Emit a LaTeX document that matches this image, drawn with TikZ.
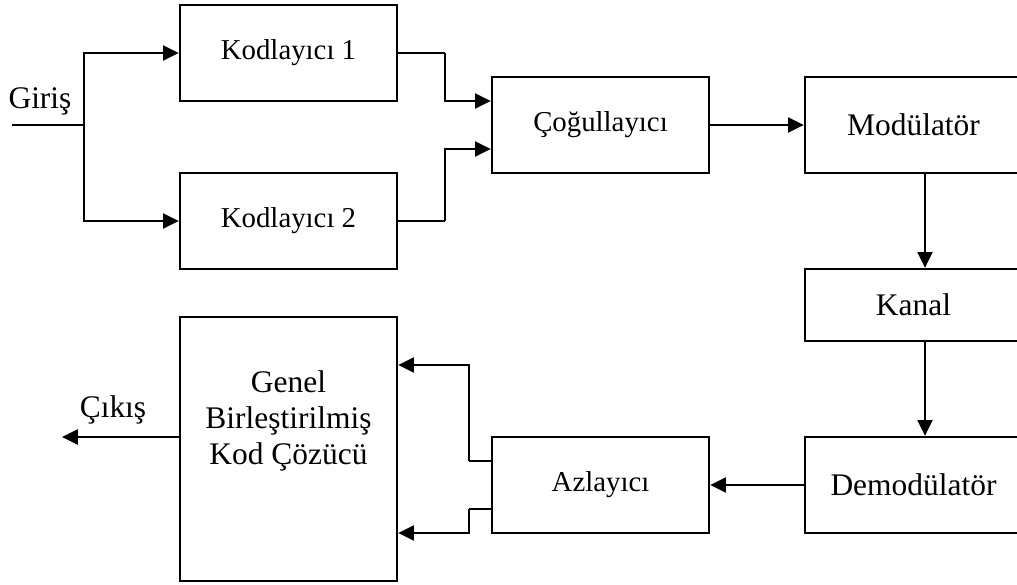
\documentclass[tikz,border=0pt]{standalone}
\usepackage{fontspec}
\setmainfont{Liberation Serif}
\usetikzlibrary{arrows.meta}

\begin{document}
\begin{tikzpicture}
  % Stilleri tanımla
  \tikzset{
    kutu/.style={draw, line width=1.3pt, minimum width=4.34cm, minimum height=1.92cm, inner sep=0pt},
    buyuk/.style={font=\fontsize{17.9}{20.7}\selectfont},
    kucuk/.style={font=\fontsize{16.4}{19}\selectfont},
    ok/.style={-{Triangle[length=9pt,width=8.5pt]}, line width=1.4pt},
    ince/.style={line width=0.9pt}
  }

  % Sayfa sınırları
  \useasboundingbox (0,0) rectangle (20.34,-11.68);
  \clip (0,0) rectangle (20.34,-11.68);

  % Kodlayıcılar ve çoğullayıcı
  \node[kutu, kucuk] (kod1) at (5.77,-1.06) {Kodlayıcı 1};
  \node[kutu, kucuk] (kod2) at (5.77,-4.42) {Kodlayıcı 2};
  \node[kutu, kucuk] (cog) at (12.01,-2.5) {Çoğullayıcı};

  % Sağ sütun: modülatör, kanal, demodülatör
  \node[kutu, buyuk] (mod) at (18.27,-2.5) {Modülatör};
  \node[kutu, buyuk, minimum height=1.44cm] (kanal) at (18.27,-6.1) {Kanal};
  \node[kutu, buyuk] (demod) at (18.27,-9.7) {Demodülatör};

  % Azlayıcı ve kod çözücü
  \node[kutu, kucuk] (azl) at (12.01,-9.7) {Azlayıcı};
  \node[kutu, minimum height=5.28cm] (cozucu) at (5.77,-8.98) {};
  \node[buyuk, align=center] (cozyazi) at (5.77,-8.42) {Genel\\Birleştirilmiş\\Kod Çözücü};

  % Giriş ve çıkış
  \node[buyuk, anchor=base] (giris) at (0.8,-2.16) {Giriş};
  \node[buyuk, anchor=base] (cikis) at (2.26,-8.34) {Çıkış};
  \coordinate (gbas) at (0.24,-2.5);
  \coordinate (dal) at (1.68,-2.5);
  \coordinate (cuc) at (1.24,-8.74);

  % Giriş dalları
  \draw[ince] (gbas) -- (dal);
  \draw[ok] (dal) |- (kod1.west);
  \draw[ok] (dal) |- (kod2.west);

  % Kodlayıcılardan çoğullayıcıya
  \coordinate (k1d) at (8.9,-1.06);
  \coordinate (k2d) at (8.9,-4.42);
  \draw[ince] (kod1.east) -- (k1d);
  \draw[ok] (k1d) |- ([yshift=0.48cm]cog.west);
  \draw[ince] (kod2.east) -- (k2d);
  \draw[ok] (k2d) |- ([yshift=-0.48cm]cog.west);

  % Ana zincir
  \draw[ok] (cog) -- (mod);
  \draw[ok] ([xshift=0.23cm]mod.south) -- ([xshift=0.23cm]kanal.north);
  \draw[ok] ([xshift=0.23cm]kanal.south) -- ([xshift=0.23cm]demod.north);
  \draw[ok] (demod) -- (azl);

  % Azlayıcıdan kod çözücüye
  \coordinate (a1) at (9.38,-9.22);
  \coordinate (a2) at (9.38,-10.18);
  \draw[ince] ([yshift=0.48cm]azl.west) -- (a1);
  \draw[ok] (a1) |- ([yshift=1.68cm]cozucu.east);
  \draw[ince] ([yshift=-0.48cm]azl.west) -- (a2);
  \draw[ok] (a2) |- ([yshift=-1.68cm]cozucu.east);

  % Çıkış oku
  \draw[ok] (cozucu.west |- cuc) -- (cuc);
\end{tikzpicture}
\end{document}
